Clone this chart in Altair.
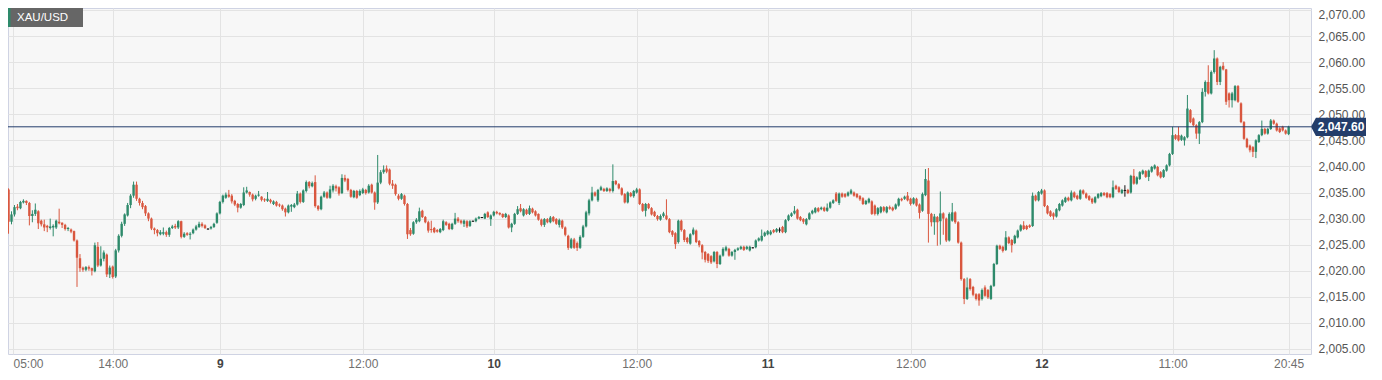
import json
import altair as alt
import pandas as pd
import numpy as np

# ---------------- data (15-minute XAU/USD candles) ----------------
open_ = [
    2034.8, 2035.6, 2029.4, 2030.8, 2032.3, 2032.0, 2033.1, 2033.4, 2033.0, 2030.5, 2030.9, 2031.4,
    2029.6, 2028.9, 2028.6, 2028.2, 2028.3, 2028.3, 2029.4, 2029.2, 2028.8, 2028.0, 2027.9, 2027.6,
    2025.8, 2022.4, 2020.6, 2020.2, 2020.7, 2020.5, 2019.9, 2024.6, 2021.0, 2022.3, 2023.1, 2019.3,
    2020.8, 2018.9, 2023.9, 2026.7, 2029.0, 2030.6, 2032.6, 2034.4, 2036.5, 2033.8, 2033.0, 2032.4,
    2031.0, 2030.0, 2028.1, 2027.8, 2027.0, 2027.1, 2027.4, 2026.9, 2028.2, 2028.6, 2028.3, 2029.5,
    2026.5, 2027.2, 2026.9, 2027.2, 2027.9, 2028.4, 2029.0, 2028.7, 2028.0, 2028.1, 2028.4, 2029.2, 2031.0,
    2033.2, 2034.0, 2034.6, 2034.4, 2033.4, 2032.8, 2032.1, 2032.6, 2035.0, 2035.1, 2034.6, 2033.8,
    2034.4, 2034.2, 2033.7, 2033.4, 2033.6, 2032.8, 2033.2, 2032.7, 2032.5, 2031.9, 2031.2, 2032.3,
    2032.2, 2032.7, 2034.8, 2033.2, 2035.3, 2037.0, 2036.2, 2037.0, 2032.4, 2031.8, 2034.2, 2035.0, 2034.0,
    2035.4, 2036.2, 2036.0, 2034.9, 2037.8, 2037.6, 2035.5, 2034.1, 2035.3, 2034.5, 2034.9, 2035.5,
    2035.0, 2036.5, 2035.0, 2033.1, 2036.9, 2038.9, 2039.6, 2039.4, 2036.7, 2036.5, 2034.4, 2033.8,
    2034.4, 2032.8, 2027.8, 2027.1, 2029.3, 2029.5, 2031.5, 2030.3, 2029.3, 2028.0, 2028.2, 2027.8, 2027.4,
    2027.8, 2029.3, 2029.0, 2028.0, 2029.0, 2030.0, 2029.6, 2029.0, 2029.5, 2028.6, 2029.5, 2029.5,
    2030.0, 2030.2, 2030.0, 2031.2, 2029.9, 2030.6, 2031.3, 2031.1, 2030.9, 2030.3, 2030.6, 2028.3,
    2029.0, 2030.9, 2032.0, 2030.6, 2031.7, 2030.9, 2031.9, 2031.4, 2030.9, 2029.8, 2028.8, 2029.9, 2029.3,
    2030.3, 2029.9, 2028.8, 2029.6, 2028.3, 2026.7, 2024.4, 2026.0, 2025.3, 2024.4, 2026.5, 2028.5,
    2031.0, 2033.5, 2035.0, 2033.5, 2035.5, 2035.7, 2035.3, 2035.7, 2035.3, 2037.2, 2036.6, 2035.8,
    2034.7, 2033.1, 2034.9, 2034.3, 2035.0, 2035.6, 2032.8, 2031.5, 2032.8, 2032.0, 2031.3, 2030.5,
    2029.8, 2030.5, 2030.6, 2029.9, 2027.6, 2027.2, 2025.5, 2029.6, 2027.8, 2026.3, 2025.2, 2027.0,
    2027.7, 2025.7, 2024.9, 2023.6, 2023.2, 2022.8, 2021.8, 2023.6, 2021.3, 2022.9, 2023.9, 2024.2,
    2022.9, 2023.6, 2024.0, 2024.2, 2024.6, 2024.2, 2023.9, 2024.4, 2024.5, 2025.8, 2025.8, 2026.7, 2027.0,
    2027.0, 2027.8, 2027.5, 2027.8, 2028.4, 2027.4, 2029.7, 2030.5, 2031.0, 2031.7, 2030.3, 2029.9,
    2028.9, 2029.9, 2031.0, 2031.2, 2032.0, 2031.8, 2032.1, 2031.5, 2032.1, 2033.0, 2034.8, 2033.0,
    2034.8, 2034.7, 2034.4, 2034.8, 2035.0, 2034.7, 2034.3, 2033.9, 2032.8, 2033.1, 2033.3, 2032.5, 2030.9,
    2031.2, 2032.2, 2031.2, 2032.2, 2032.1, 2031.9, 2032.5, 2033.8, 2033.8, 2034.4, 2033.8, 2032.9,
    2033.8, 2032.7, 2031.5, 2034.5, 2037.3, 2030.9, 2029.3, 2030.3, 2029.5, 2031.0, 2030.0, 2025.8,
    2029.6, 2031.2, 2029.3, 2025.4, 2018.4, 2014.6, 2018.4, 2016.9, 2015.5, 2015.5, 2014.6, 2016.8,
    2016.3, 2014.6, 2017.1, 2021.3, 2024.8, 2024.6, 2024.0, 2026.4, 2025.9, 2025.3, 2026.4, 2027.7,
    2028.7, 2028.6, 2028.7, 2028.6, 2034.4, 2033.5, 2034.8, 2035.4, 2032.4, 2031.4, 2031.0, 2030.4,
    2031.6, 2032.5, 2033.2, 2034.0, 2033.5, 2035.0, 2034.4, 2033.8, 2035.4, 2034.8, 2034.3, 2033.8,
    2033.1, 2034.0, 2034.3, 2034.9, 2034.9, 2034.7, 2034.1, 2036.3, 2036.0, 2034.9, 2035.4, 2035.5,
    2035.0, 2038.2, 2036.7, 2037.6, 2038.6, 2039.1, 2038.0, 2039.0, 2039.6, 2039.9, 2038.9, 2038.0,
    2039.2, 2040.2, 2042.4, 2046.0, 2046.0, 2045.1, 2045.0, 2045.6, 2050.8, 2049.2, 2047.9, 2046.3,
    2048.5, 2054.3, 2056.2, 2054.0, 2058.1, 2060.7, 2056.2, 2059.3, 2058.6, 2054.0, 2052.7, 2052.7,
    2055.4, 2052.1, 2048.5, 2045.3, 2044.0, 2043.7, 2042.8, 2044.7, 2046.0, 2047.2, 2046.3, 2047.2,
    2048.8, 2048.2, 2047.3, 2047.6, 2046.9, 2046.2,
]
high = [
    2036.4, 2035.8, 2031.4, 2032.6, 2032.8, 2033.4, 2033.7, 2033.5, 2033.2, 2031.6, 2032.9, 2031.6,
    2029.8, 2029.8, 2028.8, 2030.0, 2028.9, 2029.8, 2031.9, 2029.3, 2029.0, 2028.4, 2028.1, 2027.7,
    2026.0, 2023.2, 2020.8, 2020.9, 2021.0, 2020.6, 2025.4, 2025.5, 2024.7, 2023.9, 2023.3, 2021.0,
    2021.0, 2024.2, 2027.0, 2029.4, 2031.0, 2033.0, 2034.7, 2037.1, 2037.1, 2034.0, 2033.4, 2032.6,
    2031.2, 2030.2, 2028.3, 2028.0, 2027.8, 2028.3, 2027.7, 2028.4, 2028.8, 2029.0, 2029.7, 2029.6,
    2027.4, 2027.4, 2027.4, 2028.1, 2028.8, 2029.4, 2029.3, 2028.9, 2028.1, 2028.6, 2029.2, 2031.2, 2033.4,
    2034.6, 2035.0, 2035.5, 2034.7, 2033.6, 2033.0, 2033.0, 2036.0, 2036.1, 2035.2, 2034.8, 2034.6,
    2035.3, 2034.3, 2033.9, 2035.1, 2033.8, 2033.5, 2033.4, 2032.9, 2032.7, 2032.1, 2032.7, 2032.8,
    2033.0, 2035.3, 2035.0, 2035.6, 2037.3, 2037.2, 2037.1, 2038.3, 2032.6, 2034.4, 2035.3, 2035.2, 2036.3,
    2036.6, 2036.5, 2036.2, 2038.5, 2038.4, 2037.8, 2035.7, 2035.5, 2035.5, 2035.6, 2035.9, 2035.7,
    2036.6, 2036.7, 2035.2, 2042.2, 2039.3, 2040.2, 2040.2, 2039.6, 2037.4, 2036.7, 2034.7, 2034.9,
    2034.6, 2033.0, 2028.2, 2029.5, 2030.1, 2032.1, 2031.7, 2030.5, 2029.6, 2029.6, 2028.4, 2028.0, 2028.2,
    2029.8, 2029.5, 2029.2, 2029.2, 2031.1, 2030.3, 2029.8, 2029.8, 2029.7, 2029.7, 2029.6, 2030.2,
    2030.5, 2030.3, 2031.1, 2031.4, 2030.8, 2031.5, 2031.5, 2031.2, 2031.0, 2031.1, 2030.8, 2029.2,
    2031.1, 2032.4, 2032.8, 2032.0, 2031.9, 2032.5, 2032.1, 2031.6, 2031.0, 2030.0, 2030.1, 2030.1, 2030.5,
    2030.5, 2030.1, 2030.0, 2029.8, 2028.5, 2026.9, 2026.3, 2026.3, 2025.6, 2026.8, 2028.8, 2031.5,
    2033.8, 2036.1, 2035.2, 2035.7, 2036.3, 2035.9, 2036.0, 2035.9, 2040.4, 2037.4, 2036.8, 2036.0,
    2034.9, 2035.2, 2035.1, 2035.5, 2035.9, 2035.8, 2033.0, 2033.0, 2033.0, 2032.2, 2031.5, 2030.7,
    2030.8, 2031.3, 2033.7, 2030.1, 2027.8, 2027.4, 2029.8, 2029.8, 2028.0, 2026.5, 2027.2, 2028.3,
    2027.9, 2025.9, 2025.1, 2023.8, 2023.4, 2023.0, 2023.8, 2023.8, 2023.1, 2024.5, 2024.8, 2024.4,
    2023.8, 2024.2, 2024.5, 2024.8, 2024.8, 2024.8, 2024.8, 2024.5, 2026.0, 2026.4, 2027.9, 2027.5, 2027.8,
    2027.8, 2028.0, 2028.2, 2028.3, 2028.6, 2029.9, 2030.8, 2031.2, 2032.4, 2031.9, 2030.5, 2030.1,
    2030.1, 2031.2, 2031.7, 2032.2, 2032.2, 2032.3, 2032.3, 2032.9, 2033.3, 2033.7, 2035.1, 2035.0,
    2035.0, 2034.9, 2035.2, 2035.7, 2035.2, 2034.9, 2034.5, 2034.1, 2033.6, 2034.0, 2033.5, 2032.7, 2032.2,
    2032.4, 2032.4, 2032.4, 2032.5, 2032.3, 2032.9, 2034.0, 2034.0, 2034.4, 2035.1, 2034.0, 2034.1,
    2034.0, 2032.9, 2035.0, 2039.5, 2039.7, 2031.1, 2030.9, 2030.5, 2035.2, 2031.2, 2030.2, 2031.2,
    2033.0, 2031.4, 2029.5, 2025.6, 2018.6, 2018.7, 2018.6, 2017.1, 2015.7, 2015.7, 2016.6, 2017.2,
    2016.5, 2017.3, 2021.5, 2025.0, 2025.0, 2024.8, 2027.6, 2026.6, 2026.1, 2026.9, 2027.9, 2028.9,
    2029.5, 2028.8, 2028.9, 2035.0, 2034.6, 2035.3, 2035.7, 2035.6, 2032.6, 2031.6, 2031.2, 2032.0,
    2033.0, 2033.7, 2034.2, 2034.2, 2035.4, 2035.2, 2034.6, 2035.6, 2035.6, 2035.0, 2034.5, 2034.0,
    2034.3, 2034.9, 2035.1, 2035.1, 2035.1, 2034.9, 2037.3, 2036.5, 2036.2, 2035.7, 2036.4, 2035.7,
    2038.4, 2039.5, 2038.1, 2039.1, 2039.4, 2039.3, 2039.4, 2040.1, 2040.4, 2040.1, 2039.1, 2039.5,
    2040.4, 2042.6, 2047.6, 2046.2, 2047.6, 2046.1, 2045.8, 2053.7, 2051.0, 2049.4, 2048.1, 2048.7,
    2055.0, 2056.5, 2059.4, 2058.4, 2062.3, 2060.9, 2059.3, 2060.0, 2058.7, 2054.2, 2054.3, 2055.6,
    2055.6, 2052.3, 2048.7, 2045.5, 2044.2, 2043.9, 2045.2, 2046.2, 2048.8, 2047.4, 2047.4, 2049.1,
    2049.0, 2048.4, 2047.5, 2047.8, 2047.1, 2047.8,
]
low = [
    2034.4, 2027.1, 2028.9, 2030.4, 2031.6, 2031.8, 2032.9, 2032.6, 2028.7, 2029.3, 2030.5, 2028.0,
    2028.5, 2027.6, 2027.4, 2027.9, 2026.6, 2028.0, 2028.9, 2028.2, 2027.7, 2027.6, 2027.2, 2025.6,
    2016.9, 2019.8, 2019.8, 2019.9, 2020.0, 2019.1, 2019.7, 2020.7, 2020.8, 2021.8, 2018.8, 2018.6,
    2018.5, 2018.6, 2023.5, 2026.4, 2028.6, 2030.4, 2032.0, 2034.0, 2033.4, 2032.5, 2031.8, 2030.5,
    2029.5, 2027.8, 2027.0, 2026.6, 2026.8, 2026.8, 2026.5, 2026.5, 2028.0, 2028.0, 2028.0, 2026.2,
    2026.3, 2026.7, 2026.0, 2027.0, 2027.7, 2028.2, 2028.3, 2028.0, 2027.9, 2027.9, 2028.2, 2029.0, 2030.8,
    2032.9, 2033.8, 2034.0, 2032.9, 2032.4, 2031.2, 2031.9, 2032.4, 2034.8, 2034.2, 2033.3, 2033.5,
    2034.2, 2033.3, 2033.2, 2033.2, 2032.9, 2032.6, 2032.3, 2032.2, 2031.5, 2030.4, 2031.0, 2031.3,
    2032.0, 2032.5, 2032.9, 2033.0, 2035.0, 2035.8, 2036.0, 2032.1, 2031.5, 2031.6, 2034.0, 2033.8, 2033.8,
    2035.0, 2035.2, 2034.4, 2034.7, 2037.0, 2035.2, 2034.0, 2033.9, 2033.8, 2034.3, 2034.7, 2034.6,
    2034.8, 2034.8, 2031.7, 2032.8, 2036.6, 2038.6, 2038.7, 2036.4, 2035.7, 2034.4, 2033.5, 2033.6,
    2032.5, 2026.1, 2026.7, 2026.9, 2029.0, 2029.3, 2030.1, 2029.1, 2027.3, 2027.3, 2027.2, 2027.3, 2027.2,
    2027.6, 2028.6, 2027.8, 2027.8, 2028.8, 2029.2, 2028.9, 2028.4, 2028.2, 2028.4, 2029.4, 2029.3,
    2029.9, 2030.1, 2029.9, 2030.1, 2028.6, 2030.4, 2030.8, 2030.6, 2030.1, 2030.1, 2028.1, 2027.4,
    2028.8, 2030.7, 2031.2, 2030.4, 2030.7, 2030.7, 2031.0, 2030.4, 2029.6, 2028.5, 2028.4, 2029.1, 2029.1,
    2029.3, 2028.8, 2028.3, 2028.0, 2026.6, 2024.0, 2024.2, 2024.2, 2023.8, 2024.2, 2026.3, 2028.3,
    2030.6, 2033.3, 2034.2, 2033.2, 2035.3, 2035.1, 2035.1, 2035.0, 2035.0, 2036.4, 2035.6, 2034.4,
    2032.9, 2032.9, 2034.1, 2034.0, 2034.8, 2032.6, 2031.3, 2030.4, 2031.8, 2030.6, 2030.3, 2029.6,
    2029.6, 2030.2, 2029.7, 2027.2, 2026.5, 2024.2, 2025.2, 2027.5, 2025.5, 2025.2, 2025.0, 2026.8,
    2025.3, 2024.5, 2022.2, 2021.6, 2021.5, 2021.3, 2021.6, 2020.5, 2021.1, 2022.7, 2023.7, 2022.7,
    2022.7, 2022.1, 2023.8, 2024.0, 2023.8, 2024.0, 2023.7, 2024.3, 2024.3, 2025.6, 2025.6, 2026.5, 2026.8,
    2026.8, 2027.2, 2027.3, 2027.3, 2027.2, 2027.2, 2029.5, 2030.3, 2030.8, 2029.8, 2029.5, 2029.0,
    2028.7, 2029.7, 2030.8, 2031.0, 2031.2, 2031.6, 2031.3, 2031.3, 2031.9, 2032.8, 2033.2, 2032.6,
    2034.0, 2034.0, 2034.2, 2034.6, 2034.2, 2033.9, 2033.4, 2032.6, 2032.6, 2032.9, 2030.7, 2030.6, 2030.6,
    2031.0, 2031.2, 2031.0, 2031.7, 2031.4, 2031.7, 2032.3, 2033.3, 2033.6, 2033.3, 2032.5, 2032.7,
    2032.3, 2030.0, 2031.3, 2034.3, 2025.4, 2028.5, 2026.9, 2024.8, 2025.0, 2026.9, 2025.5, 2025.6,
    2029.4, 2029.0, 2025.2, 2018.1, 2013.6, 2014.4, 2016.2, 2015.1, 2014.3, 2013.3, 2014.3, 2015.0,
    2014.6, 2014.4, 2016.9, 2021.1, 2024.0, 2023.5, 2023.8, 2025.1, 2023.5, 2025.1, 2026.2, 2027.5,
    2027.8, 2027.8, 2028.2, 2028.4, 2033.3, 2033.3, 2034.6, 2032.2, 2030.8, 2030.3, 2029.8, 2030.2,
    2031.4, 2032.3, 2033.0, 2033.3, 2033.3, 2033.9, 2033.6, 2033.6, 2034.6, 2033.8, 2033.4, 2032.8,
    2032.9, 2033.8, 2034.1, 2034.3, 2033.9, 2033.9, 2033.9, 2035.5, 2034.9, 2034.7, 2034.2, 2034.7,
    2034.8, 2036.5, 2036.5, 2037.4, 2038.4, 2037.8, 2037.2, 2038.8, 2039.4, 2038.1, 2037.7, 2037.8,
    2039.0, 2040.0, 2042.2, 2045.1, 2044.8, 2044.9, 2044.0, 2045.4, 2048.3, 2047.7, 2045.3, 2044.3,
    2048.3, 2053.4, 2053.8, 2053.8, 2057.8, 2055.6, 2055.6, 2058.4, 2051.8, 2051.3, 2051.3, 2052.5,
    2052.2, 2048.3, 2045.1, 2043.5, 2042.7, 2041.8, 2041.6, 2044.5, 2045.8, 2046.1, 2046.1, 2047.0,
    2048.0, 2046.7, 2046.4, 2046.7, 2046.1, 2046.0,
]
close = [
    2036.0, 2029.4, 2030.8, 2032.2, 2032.0, 2033.2, 2033.4, 2033.0, 2030.5, 2030.9, 2031.7, 2029.1,
    2028.9, 2028.3, 2028.3, 2028.5, 2028.6, 2029.6, 2029.1, 2028.8, 2028.0, 2028.2, 2027.5, 2025.8,
    2022.5, 2020.5, 2020.2, 2020.7, 2020.4, 2020.0, 2024.9, 2021.0, 2022.3, 2023.5, 2019.3, 2020.6,
    2018.8, 2023.9, 2026.7, 2029.0, 2030.8, 2032.6, 2034.4, 2036.5, 2033.8, 2033.0, 2032.2, 2031.0,
    2030.0, 2028.1, 2027.8, 2027.2, 2027.4, 2027.4, 2026.9, 2028.2, 2028.5, 2028.3, 2029.5, 2026.5,
    2027.1, 2026.9, 2027.1, 2027.9, 2028.5, 2029.0, 2028.6, 2028.2, 2028.0, 2028.4, 2029.0, 2031.0, 2033.2,
    2034.4, 2034.6, 2034.2, 2033.3, 2032.7, 2032.1, 2032.8, 2035.0, 2035.4, 2034.6, 2033.7, 2034.4,
    2034.6, 2033.6, 2033.5, 2033.8, 2033.2, 2033.3, 2032.5, 2032.5, 2031.8, 2031.2, 2032.5, 2032.6,
    2032.7, 2034.8, 2033.2, 2035.4, 2037.0, 2036.2, 2036.8, 2032.4, 2031.8, 2034.2, 2035.0, 2034.0, 2035.6,
    2036.3, 2035.8, 2034.8, 2037.8, 2037.3, 2035.5, 2034.2, 2035.3, 2034.0, 2035.3, 2035.6, 2034.9,
    2036.3, 2035.0, 2033.1, 2036.9, 2038.9, 2039.4, 2039.0, 2036.7, 2036.3, 2034.7, 2033.8, 2034.7,
    2032.8, 2027.0, 2027.0, 2029.3, 2029.8, 2031.4, 2030.3, 2029.3, 2027.7, 2027.8, 2027.4, 2027.5, 2028.0,
    2029.5, 2028.8, 2028.0, 2029.0, 2030.0, 2029.5, 2029.2, 2029.6, 2028.5, 2029.5, 2029.5, 2030.0,
    2030.3, 2030.2, 2030.9, 2030.3, 2030.6, 2031.3, 2031.0, 2030.8, 2030.3, 2030.9, 2028.3, 2029.0,
    2030.9, 2031.8, 2031.4, 2031.8, 2030.9, 2032.0, 2031.2, 2030.6, 2029.8, 2028.8, 2029.9, 2029.3, 2030.2,
    2029.5, 2029.0, 2029.7, 2028.3, 2026.9, 2024.4, 2026.0, 2024.4, 2024.4, 2026.5, 2028.5, 2031.2,
    2033.5, 2035.0, 2034.4, 2035.5, 2036.0, 2035.3, 2035.8, 2035.3, 2037.2, 2036.6, 2035.8, 2034.6,
    2033.1, 2035.0, 2034.3, 2035.3, 2035.6, 2032.8, 2031.5, 2032.8, 2032.0, 2030.8, 2030.5, 2029.9,
    2030.5, 2031.0, 2029.9, 2027.4, 2026.9, 2025.1, 2029.6, 2027.8, 2025.9, 2025.5, 2027.0, 2027.9,
    2025.5, 2024.9, 2023.5, 2022.1, 2021.9, 2021.6, 2023.6, 2021.3, 2022.9, 2024.2, 2024.5, 2022.9,
    2023.6, 2024.0, 2024.3, 2024.6, 2024.0, 2024.6, 2024.6, 2024.4, 2025.8, 2026.2, 2026.7, 2027.3, 2027.6,
    2027.5, 2027.4, 2028.0, 2027.8, 2027.4, 2029.7, 2030.6, 2031.0, 2031.5, 2030.0, 2029.7, 2029.4,
    2029.9, 2031.0, 2031.5, 2032.0, 2031.4, 2032.1, 2031.5, 2032.1, 2033.1, 2033.5, 2033.4, 2034.8,
    2034.2, 2034.2, 2035.0, 2035.4, 2034.4, 2034.1, 2033.7, 2032.8, 2033.4, 2033.8, 2030.9, 2030.9, 2032.0,
    2032.2, 2031.5, 2032.2, 2031.9, 2031.6, 2032.7, 2033.8, 2033.5, 2034.2, 2033.5, 2032.8, 2033.9,
    2032.5, 2031.1, 2034.7, 2037.6, 2030.9, 2029.3, 2030.4, 2029.3, 2031.0, 2030.0, 2025.8, 2030.9,
    2031.2, 2029.3, 2025.4, 2018.4, 2014.6, 2016.8, 2016.5, 2015.4, 2014.6, 2014.3, 2016.3, 2015.2,
    2014.9, 2017.1, 2021.3, 2024.8, 2024.2, 2023.8, 2026.4, 2025.3, 2024.9, 2026.7, 2027.7, 2028.7,
    2028.0, 2028.0, 2028.4, 2034.4, 2033.5, 2035.1, 2035.4, 2032.4, 2031.0, 2030.5, 2030.4, 2031.8,
    2032.8, 2033.5, 2034.0, 2033.5, 2035.0, 2034.1, 2033.8, 2035.4, 2034.8, 2034.0, 2033.6, 2033.1,
    2034.1, 2034.7, 2034.9, 2034.5, 2034.1, 2034.1, 2036.0, 2035.7, 2035.1, 2035.5, 2035.4, 2034.9,
    2038.2, 2036.7, 2037.9, 2038.9, 2039.2, 2038.0, 2039.2, 2039.9, 2040.2, 2038.3, 2037.9, 2039.3,
    2040.2, 2042.4, 2046.0, 2045.3, 2045.0, 2045.9, 2045.6, 2051.1, 2048.5, 2047.9, 2046.3, 2048.5,
    2054.3, 2056.2, 2054.0, 2058.1, 2060.7, 2056.2, 2059.1, 2058.6, 2052.4, 2052.7, 2054.0, 2055.4,
    2052.4, 2048.5, 2045.3, 2043.7, 2043.1, 2042.8, 2045.0, 2046.0, 2047.2, 2046.3, 2047.2, 2048.8,
    2048.2, 2046.9, 2046.6, 2046.9, 2046.3, 2047.6,
]

# axis ticks: candle index of each time label
tick_index = [0, 36, 72, 120, 164, 212, 256, 304, 348, 392, 431]
tick_label = ["05:00", "14:00", "9", "12:00", "10", "12:00", "11", "12:00", "12", "11:00", "20:45"]
day_labels = ["9", "10", "11", "12"]
price_ticks = list(range(2005, 2071, 5))
last_price = [2047.60]
symbol = ["XAU/USD"]

# ---------------- styling ----------------
GREEN = "#2e8a6b"
RED = "#d9573f"
NAVY = "#233d6b"
FONT = "Arial, 'Liberation Sans', sans-serif"
W, H = 1303, 346
X_MIN, X_MAX = 2.5, 2.5 + W / 3.0
Y_MIN, Y_MAX = 2004.04, 2070.38

n = min(len(open_), len(high), len(low), len(close))
df = pd.DataFrame({
    "i": np.arange(n),
    "open": open_[:n], "high": high[:n], "low": low[:n], "close": close[:n],
})
df["high"] = df[["high", "open", "close"]].max(axis=1)
df["low"] = df[["low", "open", "close"]].min(axis=1)
df["dir"] = np.where(df["close"] > df["open"], "up",
                     np.where(df["close"] < df["open"], "down", "flat"))
mid = (df["open"] + df["close"]) / 2
top = df[["open", "close"]].max(axis=1)
bot = df[["open", "close"]].min(axis=1)
small = (top - bot) < 0.2
df["top"] = np.where(small, mid + 0.1, top)
df["bot"] = np.where(small, mid - 0.1, bot)

tick_vals = [max(float(t), X_MIN) for t in tick_index]
day_vals = [v for v, lab in zip(tick_vals, tick_label) if lab in day_labels]
label_expr = f"{json.dumps(tick_label)}[indexof({json.dumps(tick_vals)}, datum.value)]"
day_test = f"indexof({json.dumps(day_vals)}, datum.value) >= 0"
first_test = f"datum.value <= {X_MIN + 1}"
top_test = f"datum.value >= {max(price_ticks)}"

xscale = alt.Scale(domain=[X_MIN, X_MAX], nice=False, zero=False)
yscale = alt.Scale(domain=[Y_MIN, Y_MAX], nice=False, zero=False)

xaxis = alt.Axis(
    values=tick_vals, labelExpr=label_expr, title=None, grid=True, gridColor="#e3e3e3",
    ticks=False, domain=False, labelFontSize=12, labelFont=FONT, labelPadding=4,
    labelFlush=False,
    labelAlign={"condition": {"test": first_test, "value": "left"}, "value": "center"},
    labelColor={"condition": {"test": day_test, "value": "#444444"}, "value": "#6f6f6f"},
    labelFontWeight={"condition": {"test": day_test, "value": "bold"}, "value": "normal"},
)
yaxis = alt.Axis(
    values=price_ticks, format=",.2f", orient="right", title=None, grid=True,
    gridColor="#e3e3e3", ticks=False, domain=False, labelFontSize=12, labelFont=FONT,
    labelPadding=7, labelColor="#555555", labelFlush=False,
    labelBaseline={"condition": {"test": top_test, "value": "top"}, "value": "middle"},
)

color = alt.Color("dir:N", scale=alt.Scale(domain=["up", "down", "flat"],
                                           range=[GREEN, RED, "#111111"]), legend=None)

wicks = alt.Chart(df).mark_rule(strokeWidth=1, clip=True).encode(
    x=alt.X("i:Q", scale=xscale, axis=xaxis),
    y=alt.Y("low:Q", scale=yscale, axis=yaxis),
    y2="high:Q",
    color=color,
)
bodies = alt.Chart(df).mark_bar(size=2.4, clip=True).encode(
    x=alt.X("i:Q", scale=xscale, axis=xaxis),
    y=alt.Y("bot:Q", scale=yscale, axis=yaxis),
    y2="top:Q",
    color=color,
)

dfp = pd.DataFrame({"p": last_price})
price_line = alt.Chart(dfp).mark_rule(color=NAVY, strokeWidth=1).encode(
    y=alt.Y("p:Q", scale=yscale, axis=yaxis)
)
TAG = "M-1,0L-0.82,-0.33L1,-0.33L1,0.33L-0.82,0.33Z"
price_tag = alt.Chart(dfp).mark_point(
    shape=TAG, filled=True, size=55 * 55, color=NAVY, opacity=1, strokeWidth=0, clip=False
).encode(x=alt.value(1330.5), y=alt.Y("p:Q", scale=yscale, axis=yaxis))
price_text = alt.Chart(dfp).mark_text(
    color="white", fontWeight="bold", fontSize=12, font=FONT, align="center",
    baseline="middle", clip=False
).encode(x=alt.value(1333), y=alt.Y("p:Q", scale=yscale, axis=yaxis),
         text=alt.Text("p:Q", format=",.2f"))

dfs = pd.DataFrame({"s": symbol})
sym_box = alt.Chart(dfs).mark_rect(color="#666666").encode(
    x=alt.value(0), x2=alt.value(75), y=alt.value(0), y2=alt.value(19)
)
sym_stripe = alt.Chart(dfs).mark_rect(color=GREEN).encode(
    x=alt.value(0), x2=alt.value(2.5), y=alt.value(0), y2=alt.value(19)
)
sym_text = alt.Chart(dfs).mark_text(
    color="white", fontSize=11.5, font=FONT, align="left", baseline="middle"
).encode(x=alt.value(9), y=alt.value(9.5), text="s:N")

chart = alt.layer(
    wicks, bodies, price_line, price_tag, price_text, sym_box, sym_stripe, sym_text
).properties(
    width=W, height=H, background="white",
    padding={"left": 0, "top": 0, "right": 62, "bottom": 17},
    autosize=alt.AutoSizeParams(type="none"),
).configure_view(fill="#f7f7f7", stroke="#cfd3e3", strokeWidth=1)

chart.save("out.html", embed_options={"renderer": "svg", "actions": False})
